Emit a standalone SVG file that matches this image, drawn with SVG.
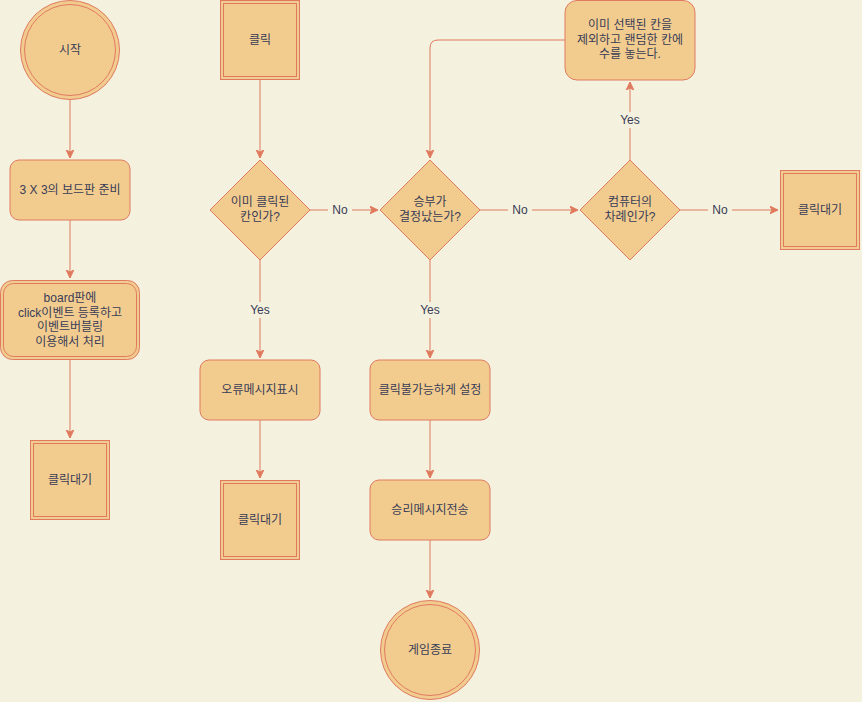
<svg xmlns="http://www.w3.org/2000/svg" width="862" height="702" viewBox="0 0 862 702">
  <style>
    .shape { fill: #F2CC8F; stroke: #E07A5F; stroke-width: 1; }
    .inner { fill: none; stroke: #E07A5F; stroke-width: 1; }
    .edge { fill: none; stroke: #E07A5F; stroke-width: 1; }
    text { font-family: "Liberation Sans", "Noto Sans CJK KR", sans-serif; font-size: 12px; fill: #393C56; text-anchor: middle; dominant-baseline: central; }
    .lblbg { fill: #F4F1DE; }
  </style>
  <defs>
    <marker id="arrow" markerUnits="userSpaceOnUse" markerWidth="10" markerHeight="10" viewBox="0 0 10 10" refX="8" refY="5" orient="auto">
      <path d="M0,1.2 L8,5 L0,8.8 L2,5 Z" fill="#E07A5F" stroke="#E07A5F" stroke-width="1"/>
    </marker>
  </defs>
  <rect width="862" height="702" fill="#F4F1DE"/>

  <g id="connectors">
    <path class="edge" d="M70,100 V158" marker-end="url(#arrow)"/>
    <path class="edge" d="M70,220 V278" marker-end="url(#arrow)"/>
    <path class="edge" d="M70,360 V438" marker-end="url(#arrow)"/>
    <path class="edge" d="M260,80 V158" marker-end="url(#arrow)"/>
    <path class="edge" d="M310,210 H378" marker-end="url(#arrow)"/>
    <path class="edge" d="M260,260 V358" marker-end="url(#arrow)"/>
    <path class="edge" d="M260,420 V478" marker-end="url(#arrow)"/>
    <path class="edge" d="M480,210 H578" marker-end="url(#arrow)"/>
    <path class="edge" d="M430,260 V358" marker-end="url(#arrow)"/>
    <path class="edge" d="M430,420 V478" marker-end="url(#arrow)"/>
    <path class="edge" d="M430,540 V598" marker-end="url(#arrow)"/>
    <path class="edge" d="M680,210 H778" marker-end="url(#arrow)"/>
    <path class="edge" d="M630,160 V82" marker-end="url(#arrow)"/>
    <path class="edge" d="M565,40 H438 Q430,40 430,48 V158" marker-end="url(#arrow)"/>
    <!-- edge labels -->
    <rect class="lblbg" x="328" y="202" width="24" height="16"/>
    <text x="340" y="210">No</text>
    <rect class="lblbg" x="508" y="202" width="24" height="16"/>
    <text x="520" y="210">No</text>
    <rect class="lblbg" x="708" y="202" width="24" height="16"/>
    <text x="720" y="210">No</text>
    <rect class="lblbg" x="247" y="302" width="26" height="16"/>
    <text x="260" y="310">Yes</text>
    <rect class="lblbg" x="417" y="302" width="26" height="16"/>
    <text x="430" y="310">Yes</text>
    <rect class="lblbg" x="617" y="112" width="26" height="16"/>
    <text x="630" y="120">Yes</text>
  </g>

  <g id="start">
    <circle class="shape" cx="70" cy="50" r="49.5"/>
    <circle class="inner" cx="70" cy="50" r="45.5"/>
    <text x="70" y="50">시작</text>
  </g>

  <g id="board-ready">
    <rect class="shape" x="10" y="160" width="120" height="60" rx="9"/>
    <text x="70" y="190">3 X 3의 보드판 준비</text>
  </g>

  <g id="board-event">
    <rect class="shape" x="0.5" y="280.5" width="139" height="79" rx="12"/>
    <rect class="inner" x="3.5" y="283.5" width="133" height="73" rx="10"/>
    <text x="70" y="298">board판에</text>
    <text x="70" y="312.5">click이벤트 등록하고</text>
    <text x="70" y="327">이벤트버블링</text>
    <text x="70" y="341.5">이용해서 처리</text>
  </g>

  <g id="wait-left">
    <rect class="shape" x="30.5" y="440.5" width="79" height="79"/>
    <rect class="inner" x="33.5" y="443.5" width="73" height="73"/>
    <text x="70" y="480">클릭대기</text>
  </g>

  <g id="click">
    <rect class="shape" x="220.5" y="0.5" width="79" height="79"/>
    <rect class="inner" x="223.5" y="3.5" width="73" height="73"/>
    <text x="260" y="40">클릭</text>
  </g>

  <g id="already-clicked">
    <path class="shape" d="M260,160 L310,210 L260,260 L210,210 Z"/>
    <text x="260" y="202">이미 클릭된</text>
    <text x="260" y="216.5">칸인가?</text>
  </g>

  <g id="error-msg">
    <rect class="shape" x="200" y="360" width="120" height="60" rx="9"/>
    <text x="260" y="390">오류메시지표시</text>
  </g>

  <g id="wait-mid">
    <rect class="shape" x="220.5" y="480.5" width="79" height="79"/>
    <rect class="inner" x="223.5" y="483.5" width="73" height="73"/>
    <text x="260" y="520">클릭대기</text>
  </g>

  <g id="decided">
    <path class="shape" d="M430,160 L480,210 L430,260 L380,210 Z"/>
    <text x="430" y="202">승부가</text>
    <text x="430" y="216.5">결정났는가?</text>
  </g>

  <g id="disable-click">
    <rect class="shape" x="370" y="360" width="120" height="60" rx="9"/>
    <text x="430" y="390">클릭불가능하게 설정</text>
  </g>

  <g id="win-msg">
    <rect class="shape" x="370" y="480" width="120" height="60" rx="9"/>
    <text x="430" y="510">승리메시지전송</text>
  </g>

  <g id="game-over">
    <circle class="shape" cx="430" cy="650" r="49.5"/>
    <circle class="inner" cx="430" cy="650" r="45.5"/>
    <text x="430" y="650">게임종료</text>
  </g>

  <g id="computer-turn">
    <path class="shape" d="M630,160 L680,210 L630,260 L580,210 Z"/>
    <text x="630" y="202">컴퓨터의</text>
    <text x="630" y="216.5">차례인가?</text>
  </g>

  <g id="random-move">
    <rect class="shape" x="565" y="0.5" width="130" height="79.5" rx="12"/>
    <text x="630" y="25">이미 선택된 칸을</text>
    <text x="630" y="39.5">제외하고 랜덤한 칸에</text>
    <text x="630" y="54">수를 놓는다.</text>
  </g>

  <g id="wait-right">
    <rect class="shape" x="780.5" y="170.5" width="79" height="79"/>
    <rect class="inner" x="783.5" y="173.5" width="73" height="73"/>
    <text x="820" y="210">클릭대기</text>
  </g>
</svg>
